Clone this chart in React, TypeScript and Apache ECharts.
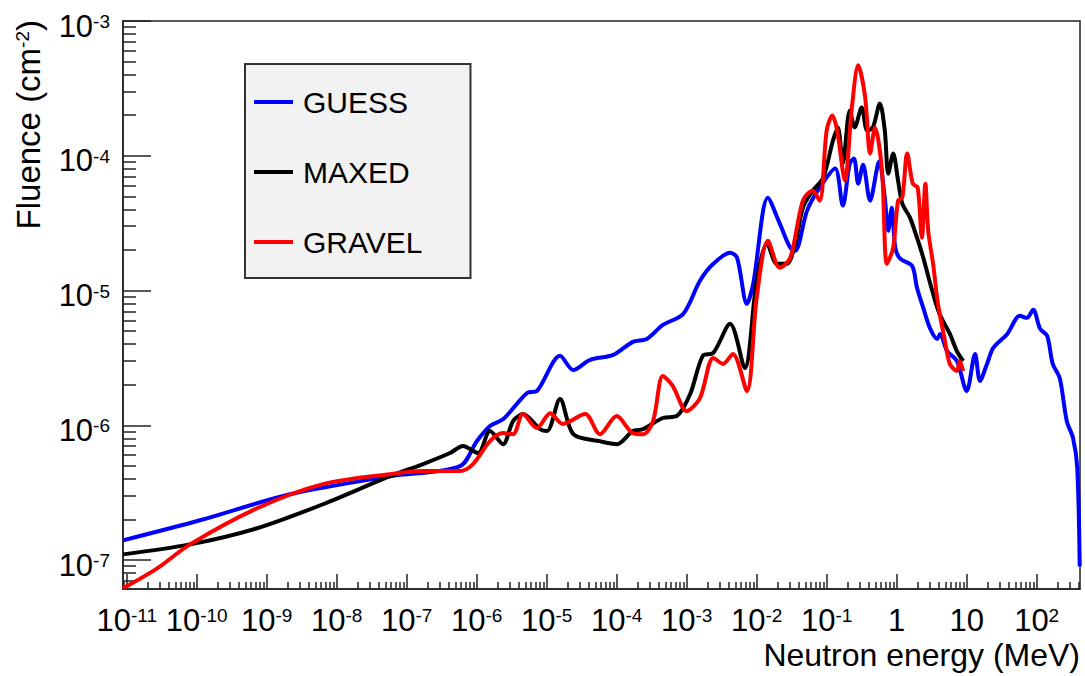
import { useEffect, useRef } from 'react';
import * as echarts from 'echarts';

// All values are log10: energy in MeV, fluence in cm^-2
const guessLogE = [-11.053, -9.953, -8.667, -7.233, -6.239, -5.996, -5.81, -5.62, -5.28, -5.137, -4.81, -4.62, -4.38, -4.05, -3.77, -3.57, -3.34, -3.05, -2.81, -2.62, -2.38, -2.28, -2.14, -2.05, -1.84, -1.67, -1.52, -1.45, -1.28, -1.10, -0.88, -0.77, -0.67, -0.61, -0.55, -0.48, -0.38, -0.25, -0.17, -0.12, -0.07, -0.02, 0.05, 0.22, 0.29, 0.38, 0.48, 0.58, 0.62, 0.72, 0.86, 1.00, 1.12, 1.19, 1.29, 1.38, 1.58, 1.76, 1.86, 1.95, 2.05, 2.15, 2.23, 2.33, 2.43, 2.52, 2.58, 2.615];
const guessLogF = [-6.854, -6.705, -6.512, -6.378, -6.303, -6.117, -6.006, -5.954, -5.760, -5.745, -5.485, -5.590, -5.515, -5.478, -5.381, -5.359, -5.255, -5.174, -4.928, -4.802, -4.720, -4.757, -5.099, -4.950, -4.311, -4.504, -4.683, -4.705, -4.407, -4.237, -4.095, -4.370, -4.058, -4.021, -4.207, -4.066, -4.333, -4.043, -4.311, -4.556, -4.385, -4.683, -4.764, -4.817, -4.980, -5.129, -5.285, -5.359, -5.322, -5.449, -5.523, -5.746, -5.471, -5.671, -5.545, -5.426, -5.322, -5.188, -5.203, -5.143, -5.285, -5.337, -5.545, -5.650, -5.969, -6.095, -6.318, -7.047];

const maxedLogE = [-11.053, -10.096, -9.138, -8.196, -7.239, -6.766, -6.381, -6.196, -5.981, -5.81, -5.624, -5.48, -5.34, -5.095, -4.995, -4.81, -4.62, -4.24, -3.996, -3.77, -3.62, -3.34, -3.14, -2.95, -2.77, -2.62, -2.38, -2.17, -2.00, -1.85, -1.71, -1.57, -1.45, -1.34, -1.20, -1.05, -0.91, -0.84, -0.77, -0.67, -0.60, -0.50, -0.42, -0.34, -0.24, -0.17, -0.12, -0.05, 0.02, 0.08, 0.19, 0.29, 0.38, 0.48, 0.58, 0.66, 0.76, 0.86, 0.95];
const maxedLogF = [-6.958, -6.884, -6.764, -6.586, -6.378, -6.288, -6.206, -6.154, -6.206, -6.043, -6.140, -5.969, -5.917, -6.028, -6.043, -5.805, -6.066, -6.118, -6.140, -6.043, -6.028, -5.946, -5.931, -5.768, -5.485, -5.463, -5.247, -5.575, -4.928, -4.653, -4.802, -4.802, -4.653, -4.386, -4.259, -4.163, -3.887, -3.790, -4.058, -3.664, -3.790, -3.642, -3.813, -3.790, -3.612, -3.813, -4.133, -3.984, -4.184, -4.355, -4.459, -4.608, -4.757, -4.950, -5.129, -5.226, -5.322, -5.449, -5.523];

const gravelLogE = [-11.053, -10.565, -10.096, -9.138, -8.196, -7.239, -6.766, -6.239, -6.053, -5.81, -5.624, -5.48, -5.34, -5.14, -4.95, -4.77, -4.45, -4.24, -4.00, -3.77, -3.62, -3.48, -3.34, -3.20, -3.00, -2.81, -2.62, -2.48, -2.34, -2.14, -2.00, -1.84, -1.67, -1.52, -1.34, -1.20, -1.10, -1.00, -0.92, -0.85, -0.74, -0.64, -0.55, -0.45, -0.38, -0.31, -0.21, -0.14, -0.05, 0.02, 0.08, 0.15, 0.23, 0.30, 0.36, 0.41, 0.45, 0.52, 0.59, 0.69, 0.76, 0.86, 0.90, 0.95];
const gravelLogF = [-7.21, -7.062, -6.884, -6.616, -6.437, -6.363, -6.340, -6.340, -6.288, -6.117, -6.058, -6.066, -5.917, -6.021, -5.910, -5.990, -5.917, -6.066, -5.931, -6.058, -6.066, -5.969, -5.634, -5.708, -5.894, -5.798, -5.500, -5.545, -5.471, -5.746, -5.054, -4.630, -4.831, -4.757, -4.333, -4.259, -4.333, -3.813, -3.701, -3.813, -4.184, -3.642, -3.329, -3.567, -3.984, -3.790, -4.110, -4.802, -4.683, -4.333, -4.311, -3.984, -4.207, -4.237, -4.608, -4.207, -4.556, -4.802, -5.099, -5.374, -5.545, -5.597, -5.523, -5.597];

const seriesNames = ['GUESS', 'MAXED', 'GRAVEL'];
const seriesColors = ['#0000ff', '#000000', '#ff0000'];

const xTickExps = [-11, -10, -9, -8, -7, -6, -5, -4, -3, -2, -1, 0, 1, 2];
const xTickLabels = ['10^-11', '10^-10', '10^-9', '10^-8', '10^-7', '10^-6', '10^-5', '10^-4', '10^-3', '10^-2', '10^-1', '1', '10', '10^2'];
const yTickExps = [-7, -6, -5, -4, -3];
const yTickLabels = ['10^-7', '10^-6', '10^-5', '10^-4', '10^-3'];

const X_MIN = -11.053;
const X_MAX = 2.619;
const Y_MIN = -7.215;
const Y_MAX = -3;

const FONT = '"Liberation Sans", Arial, Helvetica, sans-serif';
const AXIS_COLOR = '#222';

function minorTicks(lo: number, hi: number): number[] {
  const out: number[] = [];
  for (let n = Math.floor(lo) - 1; n <= Math.ceil(hi); n++) {
    for (let k = 2; k <= 9; k++) {
      const v = n + Math.log10(k);
      if (v > lo && v < hi) out.push(v);
    }
  }
  return out;
}

function richLabel(s: string): string {
  const parts = s.split('^');
  return parts.length > 1 ? `{b|${parts[0]}}{s|${parts[1]}}` : `{b|${parts[0]}}`;
}

const richStyles = {
  b: { fontSize: 31, lineHeight: 28, fontFamily: FONT, color: '#000' },
  s: { fontSize: 19, lineHeight: 8, verticalAlign: 'top', fontFamily: FONT, color: '#000' },
};

function pairs(xs: number[], ys: number[]): number[][] {
  return xs.map((x, i) => [x, ys[i]]);
}

export default function App() {
  const ref = useRef<HTMLDivElement>(null);

  useEffect(() => {
    if (!ref.current) return;
    const chart = echarts.init(ref.current, null, { renderer: 'svg' });
    const datasets = [
      pairs(guessLogE, guessLogF),
      pairs(maxedLogE, maxedLogF),
      pairs(gravelLogE, gravelLogF),
    ];
    const option: any = {
      animation: false,
      backgroundColor: '#ffffff',
      grid: {
        left: 123,
        top: 21,
        width: 957,
        height: 568,
        show: true,
        borderColor: AXIS_COLOR,
        borderWidth: 1.5,
        backgroundColor: 'transparent',
      },
      legend: {
        data: seriesNames.map((name) => ({ name, icon: 'rect' })),
        orient: 'vertical',
        left: 245,
        top: 64,
        backgroundColor: '#f2f2f2',
        borderColor: '#333',
        borderWidth: 2,
        padding: [23, 48, 21, 9],
        itemGap: 40,
        itemWidth: 39,
        itemHeight: 4,
        textStyle: { fontSize: 30, lineHeight: 30, fontFamily: FONT, color: '#000', padding: [0, 0, 0, 5] },
        selectedMode: false,
      },
      xAxis: [
        {
          type: 'value',
          min: X_MIN,
          max: X_MAX,
          position: 'bottom',
          offset: 0,
          axisLine: { show: true, onZero: false, lineStyle: { color: AXIS_COLOR, width: 1.5 } },
          axisTick: { show: true, inside: true, length: 15, customValues: xTickExps, lineStyle: { color: AXIS_COLOR, width: 1.5 } },
          axisLabel: {
            show: true,
            margin: 17,
            customValues: xTickExps,
            formatter: (v: number) => richLabel(xTickLabels[xTickExps.indexOf(Math.round(v))] ?? ''),
            rich: richStyles,
          },
          splitLine: { show: false },
        },
        {
          type: 'value',
          min: X_MIN,
          max: X_MAX,
          position: 'bottom',
          offset: 0,
          axisLine: { show: false, onZero: false },
          axisTick: { show: true, inside: true, length: 7, customValues: minorTicks(X_MIN, X_MAX), lineStyle: { color: AXIS_COLOR, width: 1.5 } },
          axisLabel: { show: false },
          splitLine: { show: false },
        },
      ],
      yAxis: [
        {
          type: 'value',
          min: Y_MIN,
          max: Y_MAX,
          position: 'left',
          offset: 0,
          axisLine: { show: true, onZero: false, lineStyle: { color: AXIS_COLOR, width: 1.5 } },
          axisTick: { show: true, inside: true, length: 28, customValues: yTickExps, lineStyle: { color: AXIS_COLOR, width: 1.5 } },
          axisLabel: {
            show: true,
            margin: 13,
            padding: [10, 0, 0, 0],
            customValues: yTickExps,
            formatter: (v: number) => richLabel(yTickLabels[yTickExps.indexOf(Math.round(v))] ?? ''),
            rich: richStyles,
          },
          splitLine: { show: false },
        },
        {
          type: 'value',
          min: Y_MIN,
          max: Y_MAX,
          position: 'left',
          offset: 0,
          axisLine: { show: false, onZero: false },
          axisTick: { show: true, inside: true, length: 13, customValues: minorTicks(Y_MIN, Y_MAX), lineStyle: { color: AXIS_COLOR, width: 1.5 } },
          axisLabel: { show: false },
          splitLine: { show: false },
        },
      ],
      series: seriesNames.map((name, i) => ({
        name,
        type: 'line',
        xAxisIndex: 0,
        yAxisIndex: 0,
        data: datasets[i],
        symbol: 'none',
        showSymbol: false,
        smooth: 0.3,
        color: seriesColors[i],
        itemStyle: { color: seriesColors[i] },
        lineStyle: { color: seriesColors[i], width: 4 },
        z: 3 + i,
      })),
      graphic: [
        {
          type: 'text',
          x: 1080,
          y: 655,
          style: {
            text: 'Neutron energy (MeV)',
            fontSize: 32,
            lineHeight: 28,
            fontFamily: FONT,
            fill: '#000',
            align: 'right',
            verticalAlign: 'middle',
          },
        },
        {
          type: 'text',
          x: 28,
          y: 20,
          rotation: Math.PI / 2,
          style: {
            text: '{a|Fluence (cm}{s|-2}{a|)}',
            rich: {
              a: { fontSize: 33, lineHeight: 30, fontFamily: FONT, fill: '#000' },
              s: { fontSize: 19, lineHeight: 10, verticalAlign: 'top', fontFamily: FONT, fill: '#000' },
            },
            fill: '#000',
            align: 'right',
            verticalAlign: 'middle',
          },
        },
      ],
    };
    chart.setOption(option);
    return () => chart.dispose();
  }, []);

  return (
    <div
      ref={ref}
      style={{ position: 'fixed', left: 0, top: 0, width: 1085, height: 676, background: '#fff' }}
    />
  );
}
